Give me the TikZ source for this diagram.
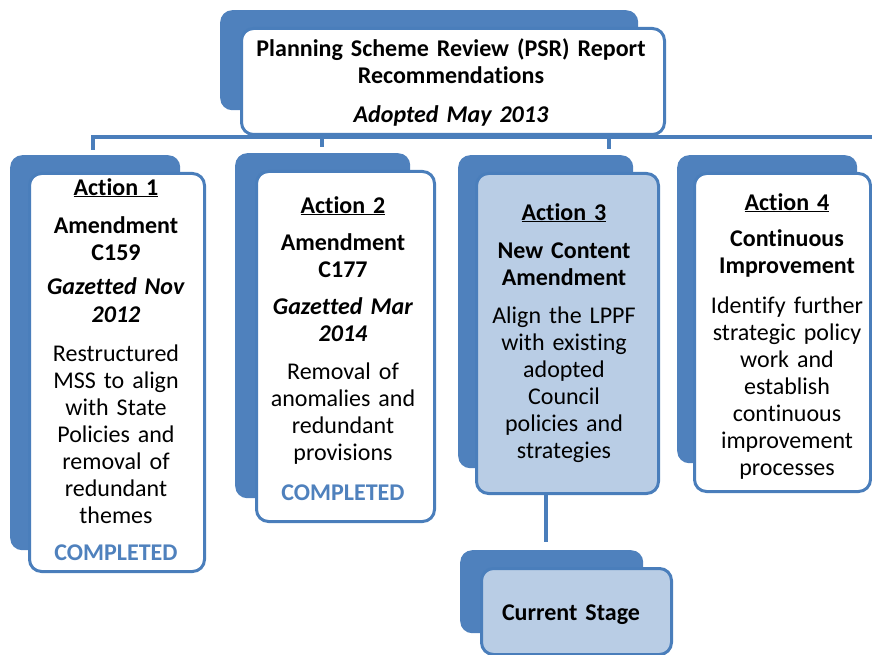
\documentclass[tikz,border=0pt]{standalone}
\usepackage{fontspec}
\setmainfont{Carlito}[WordSpace=0.5,Ligatures=CommonOff]
\definecolor{backblue}{HTML}{4F81BD}
\definecolor{edgeblue}{HTML}{4A7EBB}
\definecolor{paleblue}{HTML}{B9CDE5}
\begin{document}
\begin{tikzpicture}[x=1pt,y=-1pt,
  backbox/.style={fill=backblue, draw=none, rounded corners=12pt, inner sep=0pt, anchor=north west},
  frontbox/.style={fill=white, draw=edgeblue, line width=3pt, rounded corners=12pt, inner sep=0pt, anchor=north west},
  palebox/.style={frontbox, fill=paleblue},
  link/.style={draw=edgeblue, line width=3.5pt},
  boxtext/.style={align=center, inner sep=0pt, anchor=base, text width=#1,
    font=\fontsize{24}{27}\selectfont}]
\useasboundingbox (0,0) rectangle (872,655);

% connector bus under the report box
\coordinate (busL) at (93,137);
\coordinate (busR) at (873,137);
\coordinate (drop1) at (93,150);
\coordinate (drop2) at (322,147);
\coordinate (drop3) at (609,149);
\draw[link] (drop1) -- (busL) -- (busR);
\draw[link] (drop2 |- busL) -- (drop2);
\draw[link] (drop3 |- busL) -- (drop3);

% report box
\node[backbox, minimum width=418pt, minimum height=100pt] (topback) at (220,10) {};
\node[frontbox, minimum width=423pt, minimum height=106pt] (topfront) at (240,27) {};
\node[boxtext=416pt] (toptext) at (451,57) {\textbf{Planning Scheme Review (PSR) Report}\\
  \textbf{Recommendations}\\[12pt]
  \textbf{\textit{Adopted May 2013}}};

% Action 1
\node[backbox, minimum width=170pt, minimum height=395pt] (a1back) at (10,155) {};
\node[frontbox, minimum width=175pt, minimum height=398pt] (a1front) at (28,172) {};
\node[boxtext=172pt] (a1text) at (116,195) {\textbf{\underline{Action 1}}\\[11pt]
  \textbf{Amendment}\\ \textbf{C159}\\[8pt]
  \textbf{\textit{Gazetted Nov}}\\ \textbf{\textit{2012}}\\[12pt]
  Restructured\\ MSS to align\\ with State\\ Policies and\\ removal of\\ redundant\\ themes\\[10pt]
  \textbf{\color{backblue}COMPLETED}};

% Action 2
\node[backbox, minimum width=175pt, minimum height=345pt] (a2back) at (235,153) {};
\node[frontbox, minimum width=178pt, minimum height=350pt] (a2front) at (255,170) {};
\node[boxtext=176pt] (a2text) at (343,213) {\textbf{\underline{Action 2}}\\[10pt]
  \textbf{Amendment}\\ \textbf{C177}\\[10pt]
  \textbf{\textit{Gazetted Mar}}\\ \textbf{\textit{2014}}\\[11pt]
  Removal of\\ anomalies and\\ redundant\\ provisions\\[13pt]
  \textbf{\color{backblue}COMPLETED}};

% Action 3
\node[backbox, minimum width=175pt, minimum height=313pt] (a3back) at (458,155) {};
\node[palebox, minimum width=182pt, minimum height=320pt] (a3front) at (475,172) {};
\node[boxtext=180pt] (a3text) at (564,220) {\textbf{\underline{Action 3}}\\[11pt]
  \textbf{New Content}\\ \textbf{Amendment}\\[11pt]
  Align the LPPF\\ with existing\\ adopted\\ Council\\ policies and\\ strategies};

% Action 4
\node[backbox, minimum width=180pt, minimum height=308pt] (a4back) at (677,155) {};
\node[frontbox, minimum width=176pt, minimum height=318pt] (a4front) at (693,172) {};
\node[boxtext=176pt] (a4text) at (787,210) {\textbf{\underline{Action 4}}\\[9pt]
  \textbf{Continuous}\\ \textbf{Improvement}\\[13pt]
  Identify further\\ strategic policy\\ work and\\ establish\\ continuous\\ improvement\\ processes};

% current stage marker under Action 3
\coordinate (stageTop) at (546,542);
\draw[link] (stageTop |- a3front.south) -- (stageTop);
\node[backbox, minimum width=183pt, minimum height=83pt] (csback) at (460,550) {};
\node[palebox, minimum width=190pt, minimum height=86pt] (csfront) at (480,567) {};
\node[boxtext=185pt] (cstext) at (571,620) {\textbf{Current Stage}};
\end{tikzpicture}
\end{document}
